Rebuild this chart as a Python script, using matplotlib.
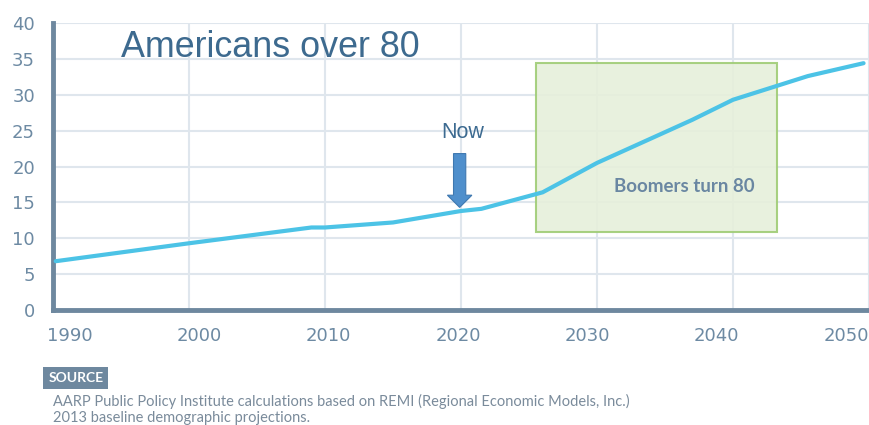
import matplotlib
matplotlib.use("Agg")
import matplotlib.pyplot as plt
import numpy as np
from matplotlib.patches import Rectangle, FancyArrow

years = [1990.2, 2000, 2009, 2010, 2015, 2020, 2021.5, 2026, 2030, 2037, 2040, 2042, 2045.5, 2049.6]
values = [6.8, 9.3, 11.5, 11.5, 12.2, 13.8, 14.1, 16.4, 20.5, 26.5, 29.3, 30.5, 32.6, 34.4]
xticks = [1990, 2000, 2010, 2020, 2030, 2040, 2050]
xtick_labels = ['1990', '2000', '2010', '2020', '2030', '2040', '2050']
yticks = [0, 5, 10, 15, 20, 25, 30, 35, 40]
box_years = (2025.5, 2043.2)
box_vals = (10.9, 34.4)

plt.rcParams['font.family'] = ['Lato', 'DejaVu Sans']
fig = plt.figure(figsize=(8.7, 4.25), dpi=100)
ax = fig.add_axes([53/870, 1-310/425, 816/870, 287/425])
ax.set_xlim(1990, 2050)
ax.set_ylim(0, 40)

tick_col = '#6d8aa3'
ax.set_xticks(xticks)
ax.set_xticklabels([])
# labels are spread slightly inside the grid, as in the source chart
label_pos = np.linspace(1991.25, 2048.3, len(xticks))
ax.set_xticks(label_pos, minor=True)
ax.set_xticklabels(xtick_labels, minor=True)
ax.set_yticks(yticks)
ax.grid(True, which='major', color='#dfe6ed', lw=1.5, zorder=0)
ax.set_axisbelow(True)
for s in ['top', 'right']:
    ax.spines[s].set_visible(False)
for s in ['left', 'bottom']:
    ax.spines[s].set_color('#6e889f')
    ax.spines[s].set_linewidth(3.5)
ax.tick_params(axis='both', which='both', length=0, labelsize=13, labelcolor=tick_col)
ax.tick_params(axis='x', which='both', pad=12)
ax.tick_params(axis='y', pad=13)
for lab in ax.get_xticklabels(minor=True) + ax.get_yticklabels():
    lab.set_family(['DejaVu Sans'])

ax.add_patch(Rectangle((box_years[0], box_vals[0]), box_years[1]-box_years[0], box_vals[1]-box_vals[0],
                       facecolor='#e6f0db', edgecolor='#9fcc75', lw=1.5, alpha=0.9, zorder=2))
ax.plot(years, values, color='#4cc3e6', lw=3, zorder=3, solid_capstyle='round')

ax.text(2036.4, 17.2, 'Boomers turn 80', color='#6a87a2', fontsize=13.5,
        fontweight='bold', ha='center', va='center', zorder=4)
ax.text(2020.1, 24.8, 'Now', color='#3d6b91', fontsize=15.5, ha='center', va='center',
        family=['Liberation Sans', 'DejaVu Sans'], zorder=4)
ax.add_patch(FancyArrow(2019.9, 21.8, 0, -7.5, width=0.9, head_width=1.8, head_length=1.7,
                        length_includes_head=True, facecolor='#4f8fcc', edgecolor='#3f78b0', lw=0.8, zorder=4))
ax.text(1995, 36.6, 'Americans over 80', color='#3d6a8f', fontsize=25.8,
        family=['Liberation Sans', 'DejaVu Sans'], ha='left', va='center', zorder=4)

fig.text(0.0555, 1-378/425, 'SOURCE', color='white', fontsize=10, fontweight='bold', va='center', ha='left',
         bbox=dict(boxstyle='square,pad=0.35', facecolor='#6e889f', edgecolor='none'))
fig.text(53/870, 1-401/425, 'AARP Public Policy Institute calculations based on REMI (Regional Economic Models, Inc.)',
         color='#7a8b9b', fontsize=10.5, va='center', ha='left')
fig.text(53/870, 1-418/425, '2013 baseline demographic projections.',
         color='#7a8b9b', fontsize=10.5, va='center', ha='left')

fig.savefig('out.png', dpi=100)
